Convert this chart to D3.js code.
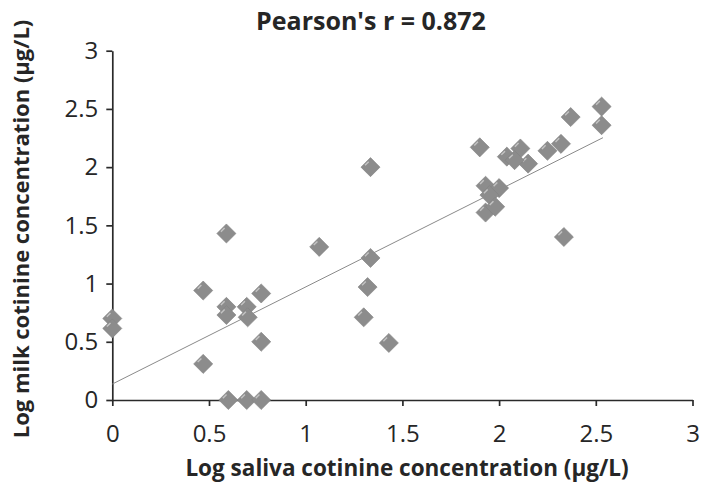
<!DOCTYPE html>
<html>
<head>
<meta charset="utf-8">
<script src="https://cdn.jsdelivr.net/npm/d3@7"></script>
<style>
  body { margin: 0; background: #fff; }
  text { font-family: "Open Sans", sans-serif; fill: #262626; }
</style>
</head>
<body>
<script>
// Log saliva (x) und Log milk (y) Werte
var salivaLog = [0, 0, 0.47, 0.47, 0.59, 0.59, 0.59, 0.695, 0.70, 0.77, 0.77,
    0.60, 0.695, 0.77, 1.07, 1.335, 1.335, 1.32, 1.30, 1.43,
    1.90, 2.04, 2.11, 2.15, 2.08, 2.25, 2.32,
    1.93, 2.00, 1.95, 1.93, 1.98, 2.37, 2.53, 2.53, 2.335]
var milkLog = [0.70, 0.615, 0.94, 0.31, 1.43, 0.80, 0.73, 0.80, 0.71, 0.915, 0.50,
    0, 0, 0, 1.315, 2.0, 1.22, 0.97, 0.71, 0.49,
    2.17, 2.09, 2.16, 2.03, 2.06, 2.14, 2.20,
    1.84, 1.82, 1.76, 1.61, 1.66, 2.43, 2.52, 2.36, 1.40]

// Trendlinie (Endpunkte aus dem Bild)
var trendX = [0, 2.537]
var trendY = [0.137, 2.253]

var xTicks = [0, 0.5, 1, 1.5, 2, 2.5, 3]
var yTicks = [0, 0.5, 1, 1.5, 2, 2.5, 3]

var title = "Pearson's r = 0.872"
var xTitle = "Log saliva cotinine concentration (µg/L)"
var yTitle = "Log milk cotinine concentration (µg/L)"

var points = salivaLog.map(function(v, i) { return {x: v, y: milkLog[i]} })

//SVG erstellen
var width = 701
var height = 484
var svg = d3.select("body").append("svg")
    .attr("width", width)
    .attr("height", height)

var x = d3.scaleLinear().domain([0, 3]).range([112.3, 692.5])
var y = d3.scaleLinear().domain([0, 3]).range([400, 50.7])

//Achsen
var xAxis = svg.append("g")
    .attr("transform", "translate(0," + y(0) + ")")
    .call(d3.axisBottom(x).tickValues(xTicks).tickFormat(d3.format("")).tickSize(6).tickSizeOuter(0).tickPadding(19))
var yAxis = svg.append("g")
    .attr("transform", "translate(" + x(0) + ",0)")
    .call(d3.axisLeft(y).tickValues(yTicks).tickFormat(d3.format("")).tickSize(6).tickSizeOuter(0).tickPadding(8))

svg.selectAll(".domain, .tick line")
    .attr("stroke", "#2a2a2a")
    .attr("stroke-width", 1.7)
svg.selectAll(".tick text")
    .style("font-size", "24px")
    .attr("fill", "#333")

//Trendlinie
svg.append("line")
    .attr("x1", x(trendX[0])).attr("y1", y(trendY[0]))
    .attr("x2", x(trendX[1])).attr("y2", y(trendY[1]))
    .attr("stroke", "#8a8a8a")
    .attr("stroke-width", 1)

//Rauten
var diamond = d3.symbol().type(d3.symbolSquare).size(182)
var marks = svg.append("g")
    .selectAll("g")
    .data(points)
    .enter()
    .append("g")
    .attr("transform", function(d) { return "translate(" + x(d.x) + "," + y(d.y) + ")" })

marks.append("path")
    .attr("d", diamond)
    .attr("transform", "rotate(45)")
    .attr("fill", "#8c8c8c")
    .attr("stroke", "#838383")
    .attr("stroke-width", 0.6)

marks.append("line")
    .attr("x1", -5.5).attr("y1", -1.8)
    .attr("x2", -1.8).attr("y2", -5.5)
    .attr("stroke", "#c4c4c4")
    .attr("stroke-width", 1.4)

//Titel
svg.append("text")
    .attr("x", 371)
    .attr("y", 30)
    .attr("text-anchor", "middle")
    .style("font-size", "25px")
    .style("font-weight", "bold")
    .text(title)

svg.append("text")
    .attr("x", 407)
    .attr("y", 476)
    .attr("text-anchor", "middle")
    .style("font-size", "22.5px")
    .style("font-weight", "bold")
    .text(xTitle)

svg.append("text")
    .attr("transform", "translate(29,229) rotate(-90)")
    .attr("text-anchor", "middle")
    .style("font-size", "22px")
    .style("font-weight", "bold")
    .text(yTitle)
</script>
</body>
</html>
